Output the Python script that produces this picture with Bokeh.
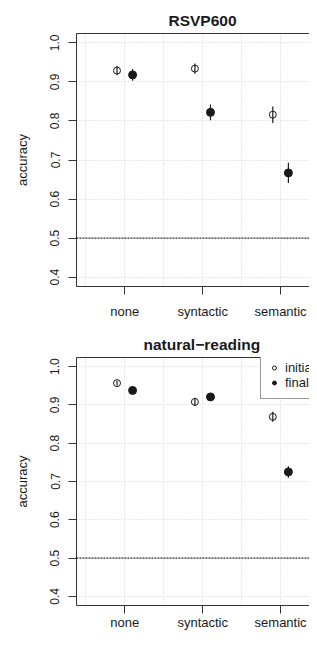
from bokeh.plotting import figure
from bokeh.models import (ColumnDataSource, FixedTicker, LinearAxis, Span, Legend,
                          LegendItem, Range1d, PrintfTickFormatter)
from bokeh.layouts import column
from bokeh.embed import file_html
from bokeh.resources import INLINE

# ---------------- data ----------------
categories = ["none", "syntactic", "semantic"]
panel_titles = ["RSVP600", "natural\u2212reading"]

rsvp_initial = [0.929, 0.934, 0.816]
rsvp_initial_err = [0.012, 0.013, 0.021]
rsvp_final = [0.918, 0.822, 0.667]
rsvp_final_err = [0.015, 0.020, 0.026]

nat_initial = [0.957, 0.908, 0.869]
nat_initial_err = [0.006, 0.011, 0.013]
nat_final = [0.938, 0.921, 0.725]
nat_final_err = [0.004, 0.005, 0.015]

y_ticks = [0.4, 0.5, 0.6, 0.7, 0.8, 0.9, 1.0]
x_grid = [0.5, 1.0, 1.5, 2.0, 2.5, 3.0, 3.5]
chance = 0.5
dodge_offset = 0.1
legend_labels = ["initial", "final"]

FONT = "Liberation Sans"
INK = "#1a1a1a"
AXC = "#333333"

FIG_W = 309
LEFT = 76


def make_panel(title, init, init_err, fin, fin_err, height, top, bottom,
               label_standoff, title_offset, show_legend):
    p = figure(width=FIG_W, height=height, output_backend="svg", toolbar_location=None,
               x_range=Range1d(0.38, 3.371), y_range=Range1d(0.376, 1.024),
               min_border_left=LEFT, min_border_right=0, min_border_top=top,
               min_border_bottom=bottom, outline_line_color=None,
               background_fill_color="white", border_fill_color="white")

    # title
    p.title.text = title
    p.title.align = "left"
    p.title.offset = title_offset
    p.title.text_font = FONT
    p.title.text_font_size = "15.5px"
    p.title.text_font_style = "bold"
    p.title.text_color = INK
    p.title.standoff = 10

    # x axis
    xpos = [i + 1 for i in range(len(categories))]
    xa = p.xaxis[0]
    xa.ticker = FixedTicker(ticks=xpos)
    xa.major_label_overrides = {x: c for x, c in zip(xpos, categories)}
    xa.major_tick_out = 8
    xa.major_tick_in = 0
    xa.minor_tick_out = 0
    xa.minor_tick_in = 0
    xa.axis_line_color = AXC
    xa.major_tick_line_color = AXC
    xa.major_label_text_font = FONT
    xa.major_label_text_font_size = "13px"
    xa.major_label_text_color = INK
    xa.major_label_standoff = label_standoff

    # y axis
    ya = p.yaxis[0]
    ya.ticker = FixedTicker(ticks=y_ticks)
    ya.formatter = PrintfTickFormatter(format="%.1f")
    ya.major_label_orientation = "vertical"
    ya.major_tick_out = 8
    ya.major_tick_in = 0
    ya.minor_tick_out = 0
    ya.minor_tick_in = 0
    ya.axis_line_color = AXC
    ya.major_tick_line_color = AXC
    ya.major_label_text_font = FONT
    ya.major_label_text_font_size = "12px"
    ya.major_label_text_color = INK
    ya.major_label_standoff = 9
    ya.axis_label = "accuracy"
    ya.axis_label_text_font = FONT
    ya.axis_label_text_font_size = "13px"
    ya.axis_label_text_font_style = "normal"
    ya.axis_label_text_color = INK
    ya.axis_label_standoff = 18

    # top border line
    ta = LinearAxis(ticker=FixedTicker(ticks=[]), major_tick_out=0, major_tick_in=0,
                    minor_tick_out=0, minor_tick_in=0, major_label_standoff=0,
                    major_label_text_font_size="0px", axis_line_color=AXC)
    p.add_layout(ta, "above")

    # grids
    p.xgrid.ticker = FixedTicker(ticks=x_grid)
    for g in (p.xgrid[0], p.ygrid[0]):
        g.grid_line_color = "#d3d3d3"
        g.grid_line_dash = "1 2"
        g.grid_line_width = 1

    # chance line
    p.add_layout(Span(location=chance, dimension="width", line_color="black",
                      line_dash="2 1", line_width=1))

    src_i = ColumnDataSource(dict(
        x=[x - dodge_offset for x in xpos], y=init,
        lo=[v - e for v, e in zip(init, init_err)],
        hi=[v + e for v, e in zip(init, init_err)]))
    src_f = ColumnDataSource(dict(
        x=[x + dodge_offset for x in xpos], y=fin,
        lo=[v - e for v, e in zip(fin, fin_err)],
        hi=[v + e for v, e in zip(fin, fin_err)]))

    p.segment(x0="x", y0="lo", x1="x", y1="hi", source=src_i, line_color=INK, line_width=1.2)
    p.segment(x0="x", y0="lo", x1="x", y1="hi", source=src_f, line_color=INK, line_width=1.2)
    r_i = p.scatter("x", "y", source=src_i, marker="circle", size=7, fill_alpha=0,
                    line_color=INK, line_width=1)
    r_f = p.scatter("x", "y", source=src_f, marker="circle", size=8, fill_color=INK,
                    line_color=INK, line_width=1)

    if show_legend:
        frame_h = height - top - bottom
        leg = Legend(items=[LegendItem(label=legend_labels[0], renderers=[r_i]),
                            LegendItem(label=legend_labels[1], renderers=[r_f])],
                     location=(184, frame_h - 46), margin=0, padding=8, spacing=0,
                     glyph_width=10, glyph_height=15, label_height=15, label_standoff=6,
                     label_text_font=FONT, label_text_font_size="13px",
                     label_text_color=INK, border_line_color=AXC, border_line_width=1,
                     background_fill_color="white", background_fill_alpha=1.0)
        p.add_layout(leg)
    return p


p1 = make_panel(panel_titles[0], rsvp_initial, rsvp_initial_err, rsvp_final, rsvp_final_err,
                height=328, top=33, bottom=42, label_standoff=9, title_offset=92,
                show_legend=False)
p2 = make_panel(panel_titles[1], nat_initial, nat_initial_err, nat_final, nat_final_err,
                height=304, top=28, bottom=24, label_standoff=1, title_offset=67,
                show_legend=True)

layout = column(p1, p2, spacing=0)
open("out.html", "w").write(file_html(layout, INLINE))
